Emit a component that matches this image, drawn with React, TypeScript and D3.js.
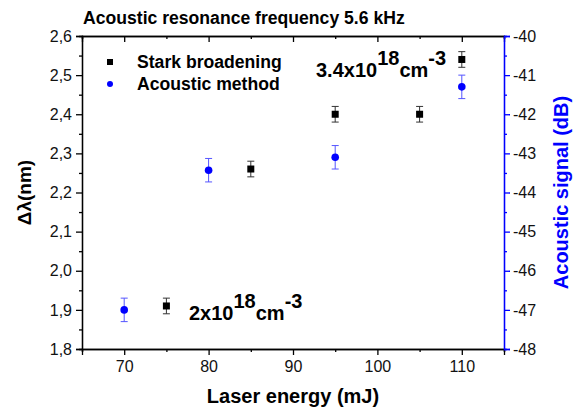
import React, { useRef, useEffect } from "react";
import * as d3 from "d3";

// Stark broadening (left axis, nm)
const starkEnergy = [75, 85, 95, 105, 110];
const starkWidth = [1.91, 2.26, 2.4, 2.4, 2.54];
const starkErr = [0.02, 0.02, 0.02, 0.02, 0.02];

// acoustic method (right axis, dB)
const acousticEnergy = [70, 80, 95, 110];
const acousticSignal = [-47.0, -43.43, -43.1, -41.3];
const acousticErr = [0.3, 0.3, 0.3, 0.3];

const xTicks = [70, 80, 90, 100, 110];
const xMinorTicks = [65, 75, 85, 95, 105, 115];
const leftTicks = [1.8, 1.9, 2.0, 2.1, 2.2, 2.3, 2.4, 2.5, 2.6];
const rightTicks = [-48, -47, -46, -45, -44, -43, -42, -41, -40];

const BLUE = "#0000ff";
const FONT = "Liberation Sans, Arial, sans-serif";

const left = 82, right = 504, top = 36, bottom = 349;

const App = () => {
  const svgRef = useRef(null);

  useEffect(() => {
    const svg = d3.select(svgRef.current);
    const x = d3.scaleLinear().domain([65, 115]).range([left, right]);
    const yL = d3.scaleLinear().domain([1.8, 2.6]).range([bottom, top]);
    const yR = d3.scaleLinear().domain([-48, -40]).range([bottom, top]);

    const comma = (d) => d3.format(".1f")(d).replace(".", ",");

    const style = (g, color = "#000") => {
      g.select(".domain").attr("stroke", color).attr("stroke-width", 1.3);
      g.selectAll(".tick line").attr("stroke", color).attr("stroke-width", 1.3);
      g.selectAll(".tick text")
        .attr("font-family", FONT)
        .attr("font-size", 16)
        .attr("fill", "#111");
    };

    // bottom
    svg.select(".x-minor").attr("transform", `translate(0,${bottom})`)
      .call(d3.axisBottom(x).tickValues(xMinorTicks).tickSize(3).tickFormat(() => ""))
      .call((g) => style(g));
    svg.select(".x-axis").attr("transform", `translate(0,${bottom})`)
      .call(d3.axisBottom(x).tickValues(xTicks).tickSize(6).tickPadding(6))
      .call((g) => style(g));
    // top, inward ticks
    svg.select(".x-top-minor").attr("transform", `translate(0,${top})`)
      .call(d3.axisBottom(x).tickValues(xMinorTicks).tickSize(3).tickFormat(() => ""))
      .call((g) => style(g));
    svg.select(".x-top").attr("transform", `translate(0,${top})`)
      .call(d3.axisBottom(x).tickValues(xTicks).tickSize(6).tickFormat(() => ""))
      .call((g) => style(g));

    // left
    const leftMinor = d3.range(1.85, 2.6, 0.1);
    svg.select(".y-minor").attr("transform", `translate(${left},0)`)
      .call(d3.axisLeft(yL).tickValues(leftMinor).tickSize(3).tickFormat(() => ""))
      .call((g) => style(g));
    svg.select(".y-axis").attr("transform", `translate(${left},0)`)
      .call(d3.axisLeft(yL).tickValues(leftTicks).tickSize(6).tickPadding(4).tickFormat(comma))
      .call((g) => style(g));

    // right (blue)
    const rightMinor = d3.range(-47.5, -40, 1);
    svg.select(".yr-minor").attr("transform", `translate(${right},0)`)
      .call(d3.axisRight(yR).tickValues(rightMinor).tickSize(3).tickFormat(() => ""))
      .call((g) => style(g, BLUE));
    svg.select(".yr-axis").attr("transform", `translate(${right},0)`)
      .call(d3.axisRight(yR).tickValues(rightTicks).tickSize(6).tickPadding(3).tickFormat((d) => String(d)))
      .call((g) => style(g, BLUE));

    // stark points
    const stark = starkEnergy.map((e, i) => ({ e, v: starkWidth[i], err: starkErr[i] }));
    const sg = svg.select(".stark");
    sg.selectAll("g").data(stark).join("g").each(function (d) {
      const g = d3.select(this);
      const cx = x(d.e);
      g.selectAll("*").remove();
      g.append("line").attr("x1", cx).attr("x2", cx)
        .attr("y1", yL(d.v + d.err)).attr("y2", yL(d.v - d.err))
        .attr("stroke", "#333").attr("stroke-width", 1);
      [d.v + d.err, d.v - d.err].forEach((v) =>
        g.append("line").attr("x1", cx - 3.5).attr("x2", cx + 3.5)
          .attr("y1", yL(v)).attr("y2", yL(v))
          .attr("stroke", "#333").attr("stroke-width", 1));
      g.append("rect").attr("x", cx - 3.5).attr("y", yL(d.v) - 3.5)
        .attr("width", 7).attr("height", 7).attr("fill", "#000");
    });

    // acoustic points
    const ac = acousticEnergy.map((e, i) => ({ e, v: acousticSignal[i], err: acousticErr[i] }));
    const ag = svg.select(".acoustic");
    ag.selectAll("g").data(ac).join("g").each(function (d) {
      const g = d3.select(this);
      const cx = x(d.e);
      g.selectAll("*").remove();
      g.append("line").attr("x1", cx).attr("x2", cx)
        .attr("y1", yR(d.v + d.err)).attr("y2", yR(d.v - d.err))
        .attr("stroke", "#5555ff").attr("stroke-width", 1);
      [d.v + d.err, d.v - d.err].forEach((v) =>
        g.append("line").attr("x1", cx - 3.5).attr("x2", cx + 3.5)
          .attr("y1", yR(v)).attr("y2", yR(v))
          .attr("stroke", "#5555ff").attr("stroke-width", 1));
      g.append("circle").attr("cx", cx).attr("cy", yR(d.v)).attr("r", 3.8).attr("fill", BLUE);
    });
  }, []);

  const bold = { fontFamily: FONT, fontWeight: "bold" };

  return (
    <svg
      ref={svgRef}
      width={574}
      height={409}
      style={{ position: "absolute", left: 0, top: 0, background: "#fff" }}
    >
      <g className="x-minor" />
      <g className="x-axis" />
      <g className="x-top-minor" />
      <g className="x-top" />
      <g className="y-minor" />
      <g className="y-axis" />
      <g className="yr-minor" />
      <g className="yr-axis" />
      <g className="stark" />
      <g className="acoustic" />

      <text x={83} y={24} fontSize={17.6} {...bold}>
        Acoustic resonance frequency 5.6 kHz
      </text>

      {/* legend */}
      <rect x={107} y={59} width={6} height={6} fill="#000" />
      <circle cx={110} cy={84} r={3} fill={BLUE} />
      <text x={137} y={68} fontSize={17.6} {...bold}>Stark broadening</text>
      <text x={137} y={90} fontSize={17.6} {...bold}>Acoustic method</text>

      {/* annotations */}
      <text x={316} y={77} fontSize={20} {...bold}>
        3.4x10<tspan dy={-12}>18</tspan>
        <tspan dy={12}>cm</tspan>
        <tspan dy={-12}>-3</tspan>
      </text>
      <text x={189} y={320} fontSize={20} {...bold}>
        2x10<tspan dy={-12}>18</tspan>
        <tspan dy={12}>cm</tspan>
        <tspan dy={-12}>-3</tspan>
      </text>

      {/* axis titles */}
      <text
        transform={`translate(31,${(top + bottom) / 2}) rotate(-90)`}
        textAnchor="middle"
        fontSize={19}
        {...bold}
      >
        Δλ(nm)
      </text>
      <text
        transform={`translate(568,${(top + bottom) / 2}) rotate(-90)`}
        textAnchor="middle"
        fontSize={20}
        fill={BLUE}
        {...bold}
      >
        Acoustic signal (dB)
      </text>
      <text x={(left + right) / 2} y={403} textAnchor="middle" fontSize={20} {...bold}>
        Laser energy (mJ)
      </text>
    </svg>
  );
};

export default App;
